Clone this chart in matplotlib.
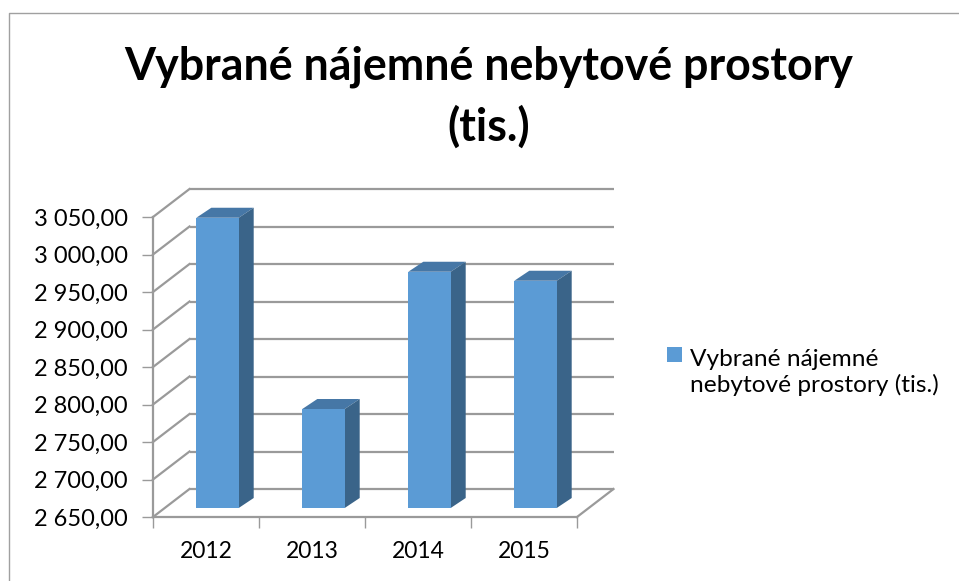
import matplotlib
matplotlib.use("Agg")
import matplotlib.pyplot as plt
from matplotlib.patches import Polygon, Rectangle
from matplotlib.transforms import Affine2D

categories = ["2012", "2013", "2014", "2015"]
values = [3037, 2782, 2965, 2953]
y_ticks = [2650, 2700, 2750, 2800, 2850, 2900, 2950, 3000, 3050]
title_lines = ["Vybrané nájemné nebytové prostory", "(tis.)"]
legend_label = "Vybrané nájemné\nnebytové prostory (tis.)"

W, H = 959, 581
plt.rcParams["font.family"] = ["Lato", "DejaVu Sans"]
fig = plt.figure(figsize=(W / 100, H / 100), dpi=100)
L, R, T, B = 153, 577, 217, 517
ax = fig.add_axes([L / W, 1 - B / H, (R - L) / W, (B - T) / H])
ax.set_xlim(0, 4)
ax.set_ylim(2650, 3050)
ax.patch.set_visible(False)
for s in ax.spines.values():
    s.set_visible(False)

GRID = "#9a9a9a"
fig.add_artist(plt.Line2D([8.5 / W, 8.5 / W, 1], [0, 1 - 12.5 / H, 1 - 12.5 / H], color="#a0a0a0", lw=1.0))
fig.text(489 / W, 1 - 67 / H, title_lines[0], fontsize=32.2, fontweight="bold", ha="center", va="center", color="black")
fig.text(488.5 / W, 1 - 127 / H, title_lines[1], fontsize=32.2, fontweight="bold", ha="center", va="center", color="black")

WALL_DX, WALL_DY = 36.5, 28
BAR_DX, BAR_DY = 11.5, 9
DEPTH_DX, DEPTH_DY = 15, 10


def shifted(dx, dy):
    return ax.transData + Affine2D().translate(dx, dy)


for v in y_ticks:
    ax.plot([0, 4], [v, v], color=GRID, lw=1.6, clip_on=False, transform=shifted(WALL_DX, WALL_DY), solid_capstyle="butt", zorder=1)
    p0 = ax.transData.transform((0, v))
    ax.plot([p0[0], p0[0] + WALL_DX], [p0[1], p0[1] + WALL_DY], color=GRID, lw=1.6, clip_on=False, transform=None, zorder=1)

ax.plot([0, 0], [2650, 3050], color=GRID, lw=1.6, clip_on=False, zorder=1)
ax.plot([0, 4], [2650, 2650], color=GRID, lw=1.6, clip_on=False, zorder=1)
pr = ax.transData.transform((4, 2650))
ax.plot([pr[0], pr[0] + WALL_DX], [pr[1], pr[1] + WALL_DY], color=GRID, lw=1.6, clip_on=False, transform=None, zorder=1)

xpos = [i + 0.5 for i in range(len(categories))]
width = 0.4
FRONT, TOP, SIDE = "#5b9bd5", "#4677a6", "#3a6489"
ax.bar(xpos, [v - 2650 for v in values], width=width, bottom=2650, color=FRONT, edgecolor="none",
       transform=shifted(BAR_DX, BAR_DY), clip_on=False, zorder=3)
for x, v in zip(xpos, values):
    tl = ax.transData.transform((x - width / 2, v)) + (BAR_DX, BAR_DY)
    tr = ax.transData.transform((x + width / 2, v)) + (BAR_DX, BAR_DY)
    br = ax.transData.transform((x + width / 2, 2650)) + (BAR_DX, BAR_DY)
    d = (DEPTH_DX, DEPTH_DY)
    ax.add_patch(Polygon([tl, tr, tr + d, tl + d], closed=True, facecolor=TOP, edgecolor="none", transform=None, clip_on=False, zorder=2))
    ax.add_patch(Polygon([tr, br, br + d, tr + d], closed=True, facecolor=SIDE, edgecolor="none", transform=None, clip_on=False, zorder=2))

ax.set_yticks(y_ticks)
ax.set_yticklabels([f"{v:,.2f}".replace(",", " ").replace(".", ",") for v in y_ticks], fontsize=17, color="black")
ax.tick_params(axis="y", length=8, width=1.0, color=GRID, pad=10)
ax.set_xticks(xpos)
ax.set_xticklabels(categories, fontsize=16.5, color="black")
ax.tick_params(axis="x", which="major", length=0, pad=17)
ax.set_xticks(range(len(categories) + 1), minor=True)
ax.tick_params(axis="x", which="minor", length=8, width=1.0, color=GRID)

fig.add_artist(Rectangle((667 / W, 1 - 362 / H), 15 / W, 15 / H, facecolor=FRONT, edgecolor="none", transform=fig.transFigure))
fig.text(690 / W, 1 - 372.5 / H, legend_label, fontsize=17.6, va="center", ha="left", color="black", linespacing=1.27)

fig.savefig("out.png", dpi=100)
